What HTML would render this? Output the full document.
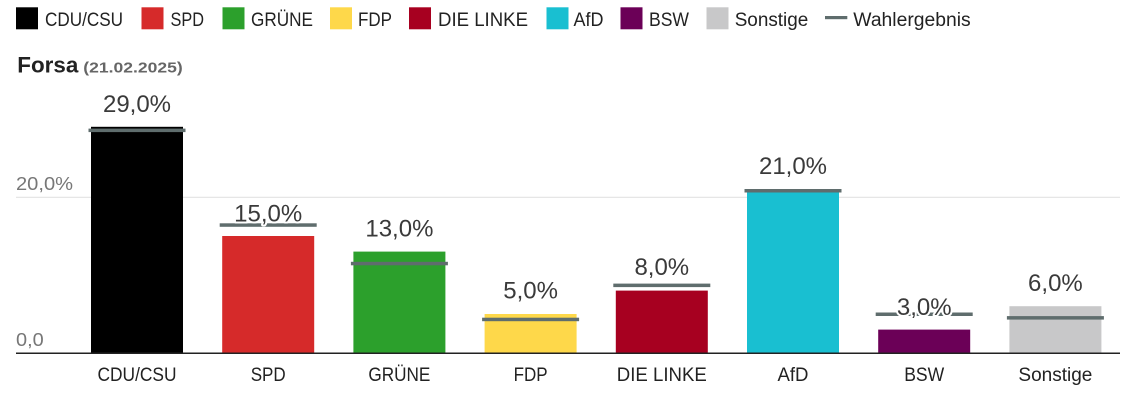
<!DOCTYPE html>
<html>
<head>
<meta charset="utf-8">
<style>
  html, body { margin:0; padding:0; background:#fff; }
  body { width:1136px; height:400px; overflow:hidden; }
  svg { display:block; font-family:"Liberation Sans", sans-serif; }
  .leg { font-size:19px; fill:#222; }
  .cat { font-size:19px; fill:#222; }
  .val { font-size:24px; fill:#3a3a3a; stroke:#fff; stroke-width:4px; paint-order:stroke; stroke-linejoin:round; }
  .ax { font-size:18px; fill:#777; }
</style>
</head>
<body>
<svg width="1136" height="400" viewBox="0 0 1136 400" xmlns="http://www.w3.org/2000/svg">
  <!-- Legend -->
  <rect x="16" y="7.3" width="22" height="22" fill="#000"/>
  <text class="leg" x="45" y="26" textLength="78" lengthAdjust="spacingAndGlyphs">CDU/CSU</text>
  <rect x="141.5" y="7.3" width="22" height="22" fill="#d62a2a"/>
  <text class="leg" x="170.5" y="26" textLength="33.5" lengthAdjust="spacingAndGlyphs">SPD</text>
  <rect x="222.5" y="7.3" width="22" height="22" fill="#2ca02c"/>
  <text class="leg" x="251" y="26" textLength="62" lengthAdjust="spacingAndGlyphs">GRÜNE</text>
  <rect x="330" y="7.3" width="22" height="22" fill="#fed84a"/>
  <text class="leg" x="358" y="26" textLength="34" lengthAdjust="spacingAndGlyphs">FDP</text>
  <rect x="409" y="7.3" width="22" height="22" fill="#a70020"/>
  <text class="leg" x="438" y="26" textLength="90" lengthAdjust="spacingAndGlyphs">DIE LINKE</text>
  <rect x="546.5" y="7.3" width="22" height="22" fill="#19bfd1"/>
  <text class="leg" x="573.5" y="26" textLength="30" lengthAdjust="spacingAndGlyphs">AfD</text>
  <rect x="620.5" y="7.3" width="22" height="22" fill="#6b0057"/>
  <text class="leg" x="649" y="26" textLength="40" lengthAdjust="spacingAndGlyphs">BSW</text>
  <rect x="706.5" y="7.3" width="22" height="22" fill="#c8c8c9"/>
  <text class="leg" x="734.7" y="26" textLength="73.6" lengthAdjust="spacingAndGlyphs">Sonstige</text>
  <rect x="825" y="16" width="22.3" height="3.2" fill="#5f6d6d"/>
  <text class="leg" x="853.3" y="26" textLength="117.4" lengthAdjust="spacingAndGlyphs">Wahlergebnis</text>

  <!-- Title -->
  <text x="17.3" y="72.3" font-size="22.5" font-weight="bold" fill="#222" textLength="61" lengthAdjust="spacingAndGlyphs">Forsa</text>
  <text x="83.3" y="72.3" font-size="15" font-weight="bold" fill="#666" textLength="99.4" lengthAdjust="spacingAndGlyphs">(21.02.2025)</text>

  <!-- Grid / axis -->
  <line x1="16" y1="197.3" x2="1120" y2="197.3" stroke="#e3e3e3" stroke-width="1.2"/>
  <text class="ax" x="16" y="190" textLength="57" lengthAdjust="spacingAndGlyphs">20,0%</text>
  <text class="ax" x="16" y="346" textLength="27.7" lengthAdjust="spacingAndGlyphs">0,0</text>

  <!-- Bars (baseline 353, 7.8 px per %) -->
  <rect x="91" y="126.8" width="92" height="226.2" fill="#000"/>
  <rect x="222.2" y="236" width="92" height="117" fill="#d62a2a"/>
  <rect x="353.4" y="251.6" width="92" height="101.4" fill="#2ca02c"/>
  <rect x="484.6" y="314" width="92" height="39" fill="#fed84a"/>
  <rect x="615.8" y="290.6" width="92" height="62.4" fill="#a70020"/>
  <rect x="747" y="189.2" width="92" height="163.8" fill="#19bfd1"/>
  <rect x="878.2" y="329.6" width="92" height="23.4" fill="#6b0057"/>
  <rect x="1009.4" y="306.2" width="92" height="46.8" fill="#c8c8c9"/>

  <!-- Baseline -->
  <line x1="16" y1="353.3" x2="1120" y2="353.3" stroke="#222" stroke-width="1.5"/>

  <!-- Wahlergebnis lines -->
  <g fill="#5f6d6d">
    <rect x="88.5" y="128.6" width="97" height="3.5"/>
    <rect x="219.7" y="223.3" width="97" height="3.5"/>
    <rect x="350.9" y="261.8" width="97" height="3.5"/>
    <rect x="482.1" y="317.7" width="97" height="3.5"/>
    <rect x="613.3" y="283.6" width="97" height="3.5"/>
    <rect x="744.5" y="189" width="97" height="3.5"/>
    <rect x="875.7" y="312.5" width="97" height="3.5"/>
    <rect x="1006.9" y="316.1" width="97" height="3.5"/>
  </g>

  <!-- Value labels -->
  <g text-anchor="middle">
    <text class="val" x="137" y="111.8">29,0%</text>
    <text class="val" x="268.2" y="221.3">15,0%</text>
    <text class="val" x="399.4" y="236.6">13,0%</text>
    <text class="val" x="530.6" y="298.6">5,0%</text>
    <text class="val" x="661.8" y="274.8">8,0%</text>
    <text class="val" x="793" y="174.2">21,0%</text>
    <text class="val" x="924.2" y="314.8">3,0%</text>
    <text class="val" x="1055.4" y="291">6,0%</text>
  </g>

  <!-- Category labels -->
  <g text-anchor="middle">
    <text class="cat" x="137" y="381" textLength="79" lengthAdjust="spacingAndGlyphs">CDU/CSU</text>
    <text class="cat" x="268.2" y="381" textLength="35" lengthAdjust="spacingAndGlyphs">SPD</text>
    <text class="cat" x="399.4" y="381" textLength="62" lengthAdjust="spacingAndGlyphs">GRÜNE</text>
    <text class="cat" x="530.6" y="381" textLength="34" lengthAdjust="spacingAndGlyphs">FDP</text>
    <text class="cat" x="661.8" y="381" textLength="90" lengthAdjust="spacingAndGlyphs">DIE LINKE</text>
    <text class="cat" x="793" y="381" textLength="31" lengthAdjust="spacingAndGlyphs">AfD</text>
    <text class="cat" x="924.2" y="381" textLength="40" lengthAdjust="spacingAndGlyphs">BSW</text>
    <text class="cat" x="1055.4" y="381" textLength="74" lengthAdjust="spacingAndGlyphs">Sonstige</text>
  </g>
</svg>
</body>
</html>
